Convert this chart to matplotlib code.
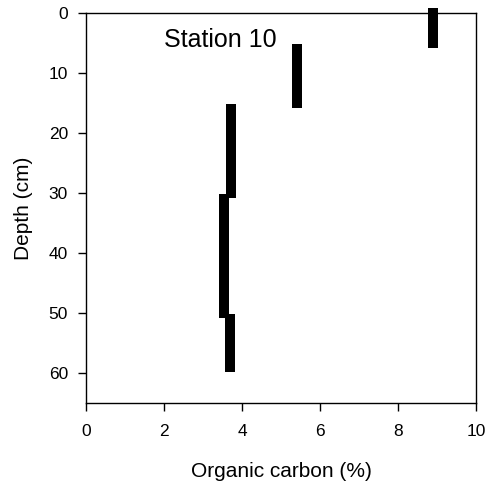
import matplotlib
matplotlib.use("Agg")
import matplotlib.pyplot as plt

plt.rcParams['font.family'] = ['Liberation Sans', 'DejaVu Sans']

depth_cm = [0, 1, 2, 3, 4, 5,
            6, 7, 8, 9, 10, 11, 12, 13, 14, 15,
            16, 17, 18, 19, 20, 21, 22, 23, 24, 25, 26, 27, 28, 29, 30,
            31, 32, 33, 34, 35, 36, 37, 38, 39, 40, 41, 42, 43, 44, 45, 46, 47, 48, 49, 50,
            51, 52, 53, 54, 55, 56, 57, 58, 59]
organic_carbon = [8.9, 8.9, 8.9, 8.9, 8.9, 8.9,
                  5.42, 5.42, 5.42, 5.42, 5.42, 5.42, 5.42, 5.42, 5.42, 5.42,
                  3.72, 3.72, 3.72, 3.72, 3.72, 3.72, 3.72, 3.72, 3.72, 3.72, 3.72, 3.72, 3.72, 3.72, 3.72,
                  3.55, 3.55, 3.55, 3.55, 3.55, 3.55, 3.55, 3.55, 3.55, 3.55, 3.55, 3.55, 3.55, 3.55, 3.55,
                  3.55, 3.55, 3.55, 3.55, 3.55,
                  3.68, 3.68, 3.68, 3.68, 3.68, 3.68, 3.68, 3.68, 3.68]

x_ticks = [0, 2, 4, 6, 8, 10]
y_ticks = [0, 10, 20, 30, 40, 50, 60]

fig = plt.figure(figsize=(4.88, 4.86), dpi=100)
ax = fig.add_axes([86/488, 1-403/486, (476-86)/488, (403-13)/486])

ax.plot(organic_carbon, depth_cm, linestyle='none', marker='s', markersize=7.6,
        markerfacecolor='black', markeredgewidth=0, clip_on=False)

ax.set_xlim(0, 10)
ax.set_ylim(65, 0)
ax.set_xticks(x_ticks)
ax.set_yticks(y_ticks)
ax.tick_params(direction='out', length=6, width=1, labelsize=12.5)
ax.tick_params(axis='x', pad=9)
ax.tick_params(axis='y', pad=7)
for s in ax.spines.values():
    s.set_linewidth(1)

ax.set_xlabel('Organic carbon (%)', fontsize=15, labelpad=17)
ax.set_ylabel('Depth (cm)', fontsize=15, labelpad=11)

ax.text(2.0, 4.5, 'Station 10', fontsize=18, ha='left', va='center')

fig.savefig('out.png', dpi=100)
